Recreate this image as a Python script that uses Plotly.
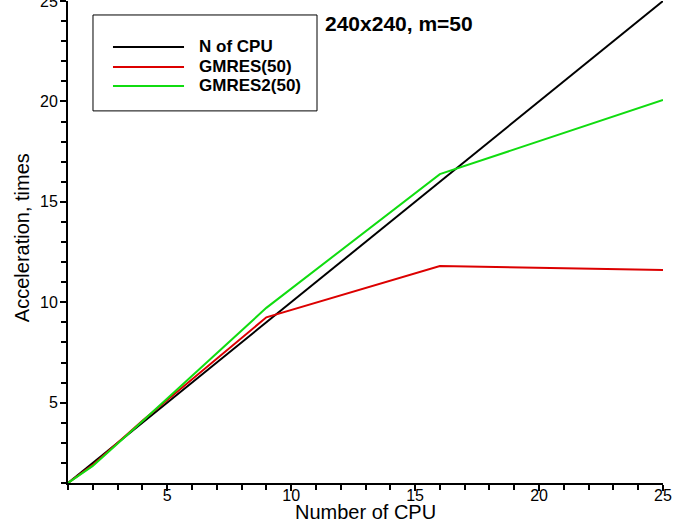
import plotly.graph_objects as go

# ---- data ----
cpus = [1, 2, 4, 9, 16, 25]
series_names = ["N of CPU", "GMRES(50)", "GMRES2(50)"]
ideal = [1, 2, 4, 9, 16, 25]
gmres = [1, 1.9, 4.1, 9.25, 11.8, 11.6]
gmres2 = [1, 1.85, 4.08, 9.72, 16.38, 20.07]
series_values = [ideal, gmres, gmres2]
colors = ["#000000", "#dc0000", "#10dc10"]
x_ticks = [5, 10, 15, 20, 25]
y_ticks = [5, 10, 15, 20, 25]
title_text = "240x240, m=50"
x_title = "Number of CPU"
y_title = "Acceleration, times"

FONT = "Liberation Sans, Arial, sans-serif"

fig = go.Figure()
for name, vals, col in zip(series_names, series_values, colors):
    fig.add_trace(go.Scatter(x=cpus, y=vals, mode="lines", name=name,
                             line=dict(color=col, width=2), showlegend=False))

axis_common = dict(
    showgrid=False, zeroline=False, showline=True, linecolor="black", linewidth=2,
    ticks="outside", ticklen=6, tickwidth=1.5, tickcolor="black",
    tickfont=dict(family=FONT, size=16, color="black"),
    minor=dict(ticks="outside", tickmode="linear", tick0=1, dtick=1, ticklen=5,
               tickwidth=1.5, tickcolor="black", showgrid=False),
    mirror=False, ticklabeloverflow="allow", automargin=False,
)
fig.update_xaxes(range=[1, 25], tickmode="array", tickvals=x_ticks,
                 ticklabelstandoff=-9, **axis_common)
fig.update_yaxes(range=[1, 25], tickmode="array", tickvals=y_ticks,
                 ticklabelstandoff=-1, **axis_common)

shapes = []
annotations = []
# legend box (drawn manually to match original legend geometry)
shapes.append(dict(type="rect", xref="paper", yref="paper", x0=0.042, x1=0.4185,
                   y0=0.772, y1=0.971, line=dict(color="black", width=1),
                   fillcolor="white", layer="above"))
row_y = [0.9046, 0.8631, 0.8237]
for name, col, yy in zip(series_names, colors, row_y):
    shapes.append(dict(type="line", xref="paper", yref="paper", x0=0.0756, x1=0.195,
                       y0=yy, y1=yy, line=dict(color=col, width=2), layer="above"))
    annotations.append(dict(text="<b>%s</b>" % name, xref="paper", yref="paper",
                            x=0.2168, y=yy, xanchor="left", yanchor="middle",
                            showarrow=False, font=dict(family=FONT, size=17, color="black")))
# title
annotations.append(dict(text="<b>%s</b>" % title_text, xref="paper", yref="paper",
                        x=0.4286, y=0.954, xanchor="left", yanchor="middle",
                        showarrow=False, font=dict(family=FONT, size=21, color="black")))
# axis titles
annotations.append(dict(text=x_title, xref="paper", yref="paper", x=0.5, y=-0.06,
                        xanchor="center", yanchor="middle", showarrow=False,
                        font=dict(family=FONT, size=20, color="black")))
annotations.append(dict(text=y_title, xref="paper", yref="paper", x=-0.0773, y=0.508,
                        xanchor="center", yanchor="middle", textangle=-90, showarrow=False,
                        font=dict(family=FONT, size=20, color="black")))

fig.update_layout(
    width=680, height=525,
    margin=dict(l=68, r=17, t=1, b=42),
    paper_bgcolor="white", plot_bgcolor="white",
    shapes=shapes, annotations=annotations,
    showlegend=False,
)

fig.write_html("out.html")
